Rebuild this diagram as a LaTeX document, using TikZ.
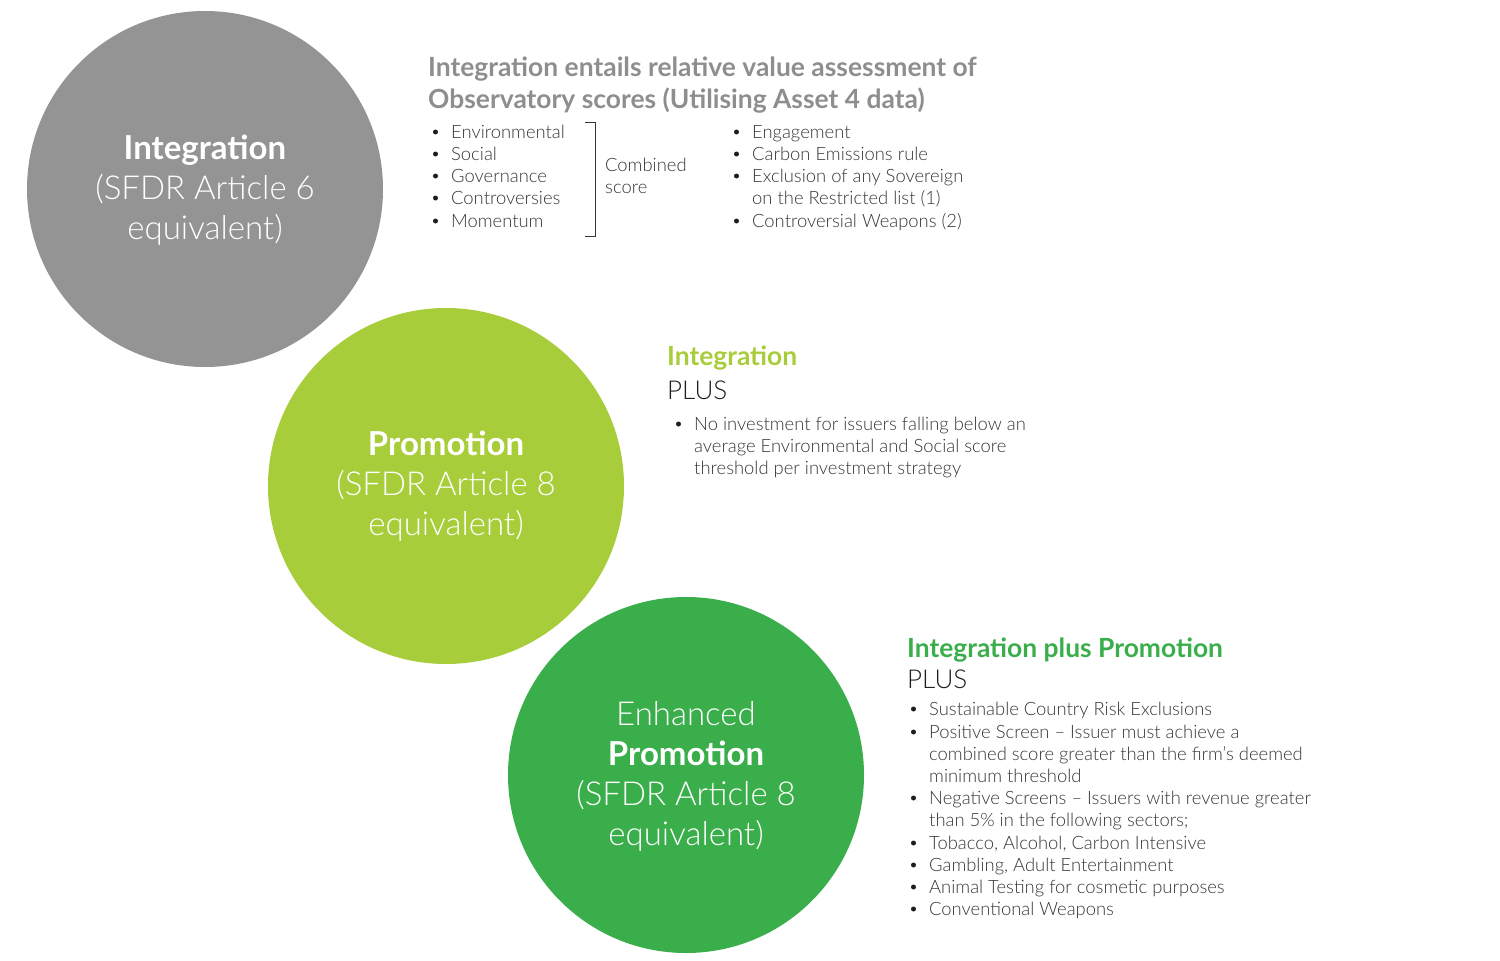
\documentclass[tikz,border=0pt]{standalone}
\usepackage{fontspec}
\setmainfont{Lato}[UprightFont={* Light},BoldFont={* Bold}]
\definecolor{cgray}{HTML}{949494}
\definecolor{clime}{HTML}{A7CD3A}
\definecolor{cgreen}{HTML}{39AE4A}
\definecolor{hgray}{HTML}{8E8E8E}
\definecolor{bodyc}{HTML}{363636}
\definecolor{plusc}{HTML}{1E1E1E}
\newcommand{\myitem}[4]{%
  \node[bul] (#4b) at (#1+2.5,#2+1) {};
  \node[body] (#4) at (#1+18,#2+5) {#3};}
\newcommand{\mycont}[4]{%
  \node[body] (#4) at (#1+18,#2+5) {#3};}
\begin{document}
\begin{tikzpicture}[x=1pt,y=-1pt,
  circ/.style={circle,minimum size=356pt,inner sep=0pt,draw=none},
  ctext/.style={text=white,align=center,font=\fontsize{33}{40}\selectfont},
  body/.style={anchor=mid west,inner sep=0pt,text=bodyc,font=\fontsize{18.4}{22}\selectfont},
  bul/.style={circle,fill=plusc,minimum size=5pt,inner sep=0pt},
  head/.style={anchor=mid west,inner sep=0pt,font=\fontsize{26.4}{32}\selectfont\bfseries},
  plus/.style={anchor=mid west,inner sep=0pt,text=plusc,font=\fontsize{26}{32}\selectfont}]
\useasboundingbox (0,0) rectangle (1500,961);
% circles
\node[circ,fill=cgray] (c1) at (205,189) {};
\node[circ,fill=clime] (c2) at (446,486) {};
\node[circ,fill=cgreen] (c3) at (686,775) {};
\node[ctext] (t1) at ([yshift=-1.5pt]c1) {\textbf{Integration}\\(SFDR Article 6\\equivalent)};
\node[ctext] (t2) at (c2) {\textbf{Promotion}\\(SFDR Article 8\\equivalent)};
\node[ctext] (t3) at ([yshift=-1pt]c3) {Enhanced\\\textbf{Promotion}\\(SFDR Article 8\\equivalent)};
% block 1
\node[head,text=hgray] (h1a) at (428,74) {Integration entails relative value assessment of};
\node[head,text=hgray] (h1b) at (428,106) {Observatory scores (Utilising Asset 4 data)};
\myitem{433}{131}{Environmental}{a1}
\myitem{433}{153}{Social}{a2}
\myitem{433}{175}{Governance}{a3}
\myitem{433}{197}{Controversies}{a4}
\myitem{433}{220}{Momentum}{a5}
\coordinate (bt0) at (585,122);
\coordinate (bt1) at (595,122);
\coordinate (bb1) at (595,236);
\coordinate (bb0) at (585,236);
\draw[bodyc,line width=1pt] (bt0) -- (bt1) -- (bb1) -- (bb0);
\node[body] (cs1) at (605,169) {Combined};
\node[body] (cs2) at (605,191) {score};
\myitem{734}{131}{Engagement}{b1}
\myitem{734}{153}{Carbon Emissions rule}{b2}
\myitem{734}{175}{Exclusion of any Sovereign}{b3}
\mycont{734}{197}{on the Restricted list (1)}{b3c}
\myitem{734}{220}{Controversial Weapons (2)}{b4}
% block 2
\node[head,text=clime] (h2) at (667,363) {Integration};
\node[plus] (p2) at (667,397) {PLUS};
\myitem{676}{423}{No investment for issuers falling below an}{c1l}
\mycont{676}{445}{average Environmental and Social score}{c1m}
\mycont{676}{467}{threshold per investment strategy}{c1n}
% block 3
\node[head,text=cgreen] (h3) at (907,655) {Integration plus Promotion};
\node[plus] (p3) at (907,686) {PLUS};
\myitem{911}{708}{Sustainable Country Risk Exclusions}{d1}
\myitem{911}{731}{Positive Screen -- Issuer must achieve a}{d2}
\mycont{911}{753}{combined score greater than the firm’s deemed}{d2b}
\mycont{911}{775}{minimum threshold}{d2c}
\myitem{911}{797}{Negative Screens -- Issuers with revenue greater}{d3}
\mycont{911}{819}{than 5\% in the following sectors;}{d3b}
\myitem{911}{842}{Tobacco, Alcohol, Carbon Intensive}{d4}
\myitem{911}{864}{Gambling, Adult Entertainment}{d5}
\myitem{911}{886}{Animal Testing for cosmetic purposes}{d6}
\myitem{911}{908}{Conventional Weapons}{d7}
\end{tikzpicture}
\end{document}
